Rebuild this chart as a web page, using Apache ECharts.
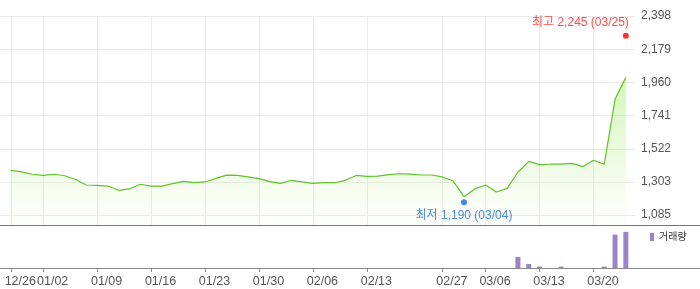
<!DOCTYPE html>
<html><head><meta charset="utf-8">
<script src="https://cdn.jsdelivr.net/npm/echarts@6/dist/echarts.min.js"></script>
<style>html,body{margin:0;padding:0;background:#fff}#c{width:700px;height:289px}</style>
</head><body><div id="c"></div>
<script>
// closing prices, one per trading day (index 0 = 12/26 ... index 57 = 03/25)
const closes = [1379,1369,1354,1347,1354,1344,1319,1283,1280,1276,1248,1257,1288,1276,1276,1292,1307,1298,1303,1327,1348,1347,1336,1325,1305,1294,1314,1303,1294,1298,1298,1314,1346,1340,1342,1351,1357,1355,1349,1349,1336,1309,1206,1257,1283,1237,1261,1367,1439,1417,1420,1421,1426,1404,1446,1420,1848,1993];
// traded volume per day
const volumes = [0,0,0,0,0,0,0,0,0,0,0,0,0,0,0,0,0,0,0,0,0,0,0,0,0,0,0,0,0,0,0,0,0,0,0,0,0,0,0,0,0,0,0,0,0,0,0,31000,11000,4000,0,4000,0,0,0,4000,93000,101000];
// x-axis tick positions (day index) and labels
const tickIdx = [0,3,8,13,18,23,28,33,40,44,49,54];
const tickLabels = ['12/26','01/02','01/09','01/16','01/23','01/30','02/06','02/13','02/27','03/06','03/13','03/20'];
// y-axis ticks
const yTicks = [1085,1303,1522,1741,1960,2179,2398];
const yTickLabels = ['1,085','1,303','1,522','1,741','1,960','2,179','2,398'];
// high / low markers
const highIdx = 57, highValue = 2245, highLabel = '최고 2,245 (03/25)';
const lowIdx = 42, lowValue = 1190, lowLabel = '최저 1,190 (03/04)';
const volName = '거래량';

const FONT = "'Liberation Sans', Arial, 'Noto Sans CJK KR', sans-serif";
const lineData = closes.map((v, i) => [i, v]);
const volData = volumes.map((v, i) => [i, v]);
const X_MIN = -1, X_MAX = 57.85;

const chart = echarts.init(document.getElementById('c'), null, {renderer: 'canvas'});
chart.setOption({
  animation: false,
  textStyle: {fontFamily: FONT},
  grid: [
    {left: 0, right: 65, top: 16, height: 209},
    {left: 0, right: 65, top: 225, height: 43}
  ],
  legend: {
    data: [volName], left: 650, top: 232, padding: 0,
    icon: 'rect', itemWidth: 4, itemHeight: 8,
    textStyle: {fontSize: 10, color: '#333', fontFamily: FONT}
  },
  xAxis: [
    {type: 'value', gridIndex: 0, min: X_MIN, max: X_MAX,
     axisLine: {show: false}, axisTick: {show: false, customValues: tickIdx},
     axisLabel: {show: false},
     splitLine: {show: true, lineStyle: {color: '#ebebeb', width: 1}}},
    {type: 'value', gridIndex: 1, min: X_MIN, max: X_MAX,
     axisLine: {show: false},
     axisTick: {show: true, customValues: tickIdx, length: 4, lineStyle: {color: '#8a8a8a'}},
     axisLabel: {show: true, customValues: tickIdx, margin: 7, fontSize: 12.5, color: '#555',
       padding: [0, 0, 0, 19], fontFamily: FONT,
       formatter: v => tickLabels[tickIdx.indexOf(Math.round(v))] || ''},
     splitLine: {show: false}}
  ],
  yAxis: [
    {type: 'value', gridIndex: 0, position: 'right', min: 1019, max: 2398,
     axisLine: {show: false}, axisTick: {show: false, customValues: yTicks},
     axisLabel: {customValues: yTicks, margin: 6, fontSize: 12, color: '#555', fontFamily: FONT,
       formatter: v => yTickLabels[yTicks.indexOf(Math.round(v))] || ''},
     splitLine: {show: true, lineStyle: {color: '#ebebeb', width: 1}}},
    {type: 'value', gridIndex: 1, min: 0, max: 120000, show: false,
     splitLine: {show: false}}
  ],
  graphic: [
    {type: 'line', shape: {x1: 0, y1: 225.5, x2: 700, y2: 225.5}, style: {stroke: '#70767f', lineWidth: 1}, z: 10},
    {type: 'line', shape: {x1: 0, y1: 268.5, x2: 700, y2: 268.5}, style: {stroke: '#8a8a8a', lineWidth: 1}, z: 10}
  ],
  series: [
    {type: 'line', name: 'price', xAxisIndex: 0, yAxisIndex: 0, data: lineData,
     symbol: 'none', smooth: false,
     lineStyle: {color: '#5ec427', width: 1.2},
     areaStyle: {color: new echarts.graphic.LinearGradient(0, 0, 0, 1, [
       {offset: 0, color: 'rgba(140,228,70,0.55)'},
       {offset: 0.6, color: 'rgba(150,228,90,0.22)'},
       {offset: 1, color: 'rgba(190,238,160,0.06)'}])},
     z: 2},
    {type: 'scatter', name: 'high', xAxisIndex: 0, yAxisIndex: 0,
     data: [[highIdx, highValue]], symbolSize: 6, symbolOffset: [0, -3.5],
     itemStyle: {color: '#ff0000'},
     label: {show: true, position: 'top', align: 'right', distance: 4, offset: [3, 0],
       formatter: highLabel, color: '#ff1a1a', fontSize: 12, fontFamily: FONT},
     z: 5},
    {type: 'scatter', name: 'low', xAxisIndex: 0, yAxisIndex: 0,
     data: [[lowIdx, lowValue]], symbolSize: 6, symbolOffset: [0, 3.2],
     itemStyle: {color: '#1a6ad8'},
     label: {show: true, position: 'bottom', distance: 4,
       formatter: lowLabel, color: '#226fd6', fontSize: 12, fontFamily: FONT},
     z: 5},
    {type: 'bar', name: volName, xAxisIndex: 1, yAxisIndex: 1, data: volData,
     barWidth: 5, itemStyle: {color: '#9a84c6'}}
  ]
});
</script></body></html>
